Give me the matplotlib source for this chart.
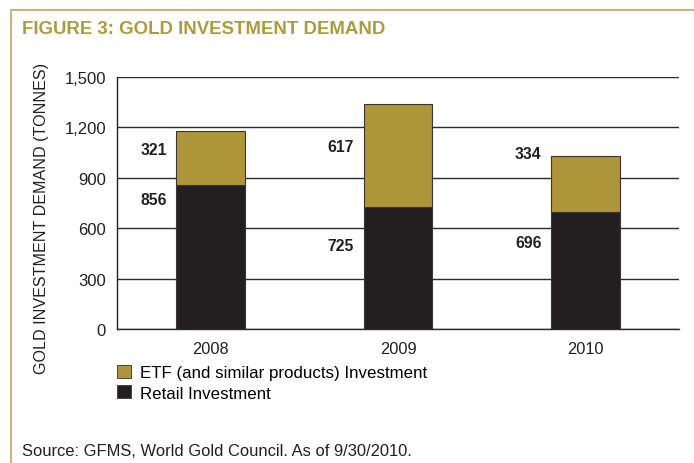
import matplotlib
matplotlib.use("Agg")
import matplotlib.pyplot as plt
from matplotlib.patches import Patch
from matplotlib.lines import Line2D

years = ["2008", "2009", "2010"]
retail = [856, 725, 696]
etf = [321, 617, 334]
# vertical spots for the value labels (tonnes)
retail_label_y = [769, 497, 517]
etf_label_y = [1069, 1089, 1043]

GOLD = "#ae9539"
TITLE_GOLD = "#b09a3c"
FRAME_GOLD = "#c9b57c"
BLACK = "#231f20"
EDGE = "#3a3530"

plt.rcParams["font.family"] = ["Liberation Sans", "DejaVu Sans"]

fig = plt.figure(figsize=(6.94, 4.64), dpi=100)
W, H = 694, 464
ax = fig.add_axes([117 / W, 1 - 330 / H, (679 - 117) / W, (330 - 78) / H])

x = list(range(len(years)))
width = 0.365
ax.bar(x, retail, width, color=BLACK, edgecolor=EDGE, linewidth=0.8, zorder=3)
ax.bar(x, etf, width, bottom=retail, color=GOLD, edgecolor=EDGE,
       linewidth=0.8, zorder=3)

# value labels sit to the left of each bar
for xi, r, e, ry, ey in zip(x, retail, etf, retail_label_y, etf_label_y):
    for val, yy in ((r, ry), (e, ey)):
        ax.annotate(f"{val}", (xi - width / 2, yy), xytext=(-7, 0),
                    textcoords="offset points", ha="right", va="center",
                    fontsize=11.3, fontweight="bold", color="#231f20")

ax.set_xlim(-0.5, 2.5)
ax.set_ylim(0, 1500)
ax.set_yticks(range(0, 1501, 300))
ax.set_yticklabels([f"{v:,}" for v in range(0, 1501, 300)])
ax.set_xticks(x)
ax.set_xticklabels(years)
ax.yaxis.grid(True, color="#2b2b2b", linewidth=1.0, zorder=0)
ax.set_axisbelow(True)
ax.tick_params(axis="both", length=0, labelsize=12, colors="#231f20")
ax.tick_params(axis="y", pad=8)
ax.tick_params(axis="x", pad=9, labelsize=11.8)
for side in ("top", "right"):
    ax.spines[side].set_visible(False)
ax.spines["left"].set_color("#231f20")
ax.spines["bottom"].set_color("#2b2b2b")
ax.spines["left"].set_linewidth(1.0)
ax.spines["bottom"].set_linewidth(1.0)

fig.text(42 / W, 1 - 218 / H, "GOLD INVESTMENT DEMAND (TONNES)", rotation=90,
         ha="center", va="center", fontsize=11.6, color="#231f20")

handles = [Patch(facecolor=GOLD, edgecolor=EDGE, linewidth=0.6),
           Patch(facecolor=BLACK, edgecolor=EDGE, linewidth=0.6)]
fig.legend(handles, ["ETF (and similar products) Investment", "Retail Investment"],
           loc="upper left", bbox_to_anchor=(117 / W, 1 - 366 / H),
           frameon=False, fontsize=12.2, borderpad=0, borderaxespad=0,
           handlelength=0.85, handleheight=0.8, handletextpad=0.5,
           labelspacing=0.3)

fig.text(22 / W, 1 - 30 / H, "FIGURE 3: GOLD INVESTMENT DEMAND", ha="left",
         va="center", fontsize=13.4, fontweight="bold", color=TITLE_GOLD)
fig.text(22 / W, 1 - 452 / H, "Source: GFMS, World Gold Council. As of 9/30/2010.",
         ha="left", va="center", fontsize=11.9, color="#231f20")

# gold frame along the top and left edges
fig.add_artist(Line2D([11 / W, 11 / W, 1], [0, 1 - 11 / H, 1 - 11 / H],
                      transform=fig.transFigure, color=FRAME_GOLD, linewidth=1.5))

fig.savefig("out.png", dpi=100)
